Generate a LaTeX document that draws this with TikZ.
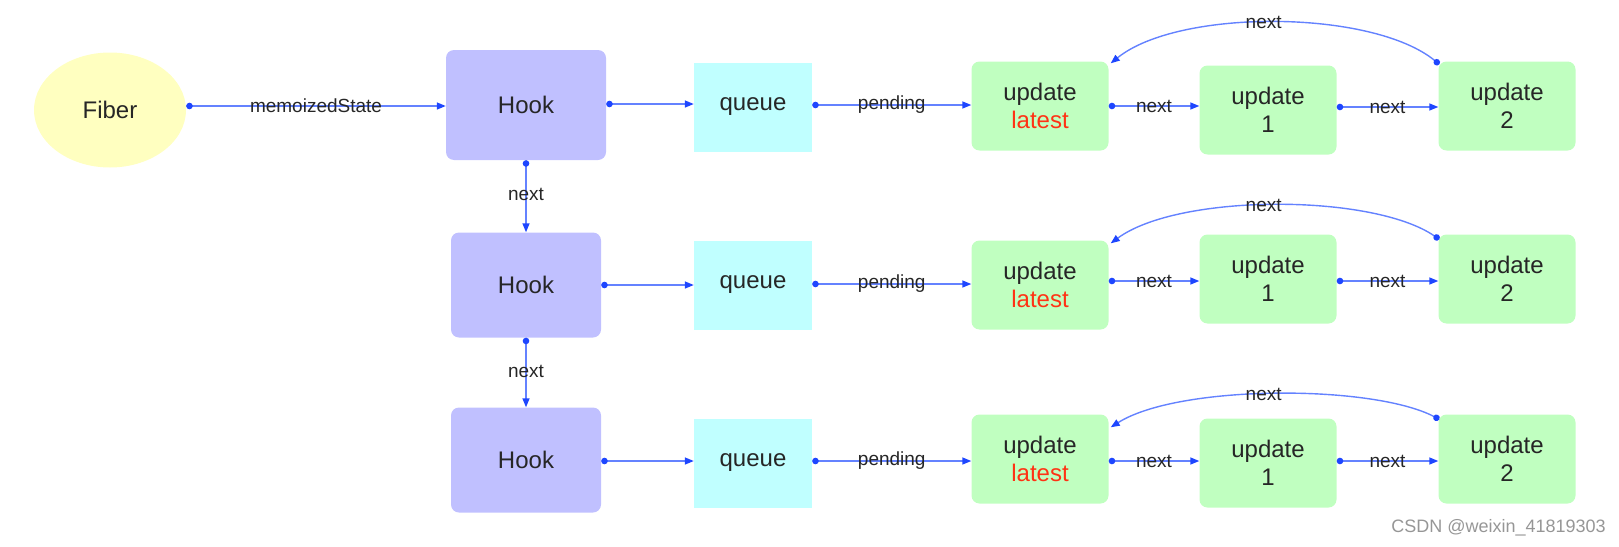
\documentclass[tikz,border=0pt]{standalone}
\usepackage{fontspec}
\setmainfont{Liberation Sans}
\usetikzlibrary{arrows.meta,shapes.geometric}
\definecolor{fiberc}{RGB}{255,255,192}
\definecolor{hookc}{RGB}{192,192,255}
\definecolor{queuec}{RGB}{192,255,255}
\definecolor{updc}{RGB}{192,255,192}
\definecolor{linec}{RGB}{100,130,255}
\definecolor{dotc}{RGB}{30,70,255}
\definecolor{latestc}{RGB}{255,50,20}
\definecolor{wmc}{RGB}{150,150,150}
\begin{document}
\begin{tikzpicture}[x=1pt,y=-1pt,
  every node/.style={font=\fontsize{24}{28}\selectfont, text=black!85},
  fiberbox/.style={ellipse, fill=fiberc, minimum width=152pt, minimum height=115pt, inner sep=0pt},
  hookbox/.style={rectangle, rounded corners=8pt, fill=hookc, minimum width=150pt, minimum height=105pt, inner sep=0pt},
  queuebox/.style={rectangle, fill=queuec, minimum width=118pt, minimum height=89pt, inner sep=0pt},
  updbox/.style={rectangle, rounded corners=8pt, fill=updc, minimum width=137pt, minimum height=89pt, inner sep=0pt, align=center, font=\fontsize{24}{30}\selectfont},
  link/.style={draw=linec, line width=1.4pt, {Circle[length=6.5pt,width=6.5pt,fill=dotc,color=dotc]}-{Triangle[length=9pt,width=7pt,fill=dotc,color=dotc]}},
  lbl/.style={font=\fontsize{19}{22}\selectfont, text=black!85, inner sep=0pt}
]
\useasboundingbox (0,0) rectangle (1619,546);

% nodes
\node[fiberbox] (fiber) at (110,110) {Fiber};
\node[hookbox, minimum width=160pt, minimum height=110pt] (h1) at (526,105) {Hook};
\node[hookbox] (h2) at (526,285) {Hook};
\node[hookbox] (h3) at (526,460) {Hook};

\node[queuebox] (q1) at (753,107) {queue};
\node[queuebox] (q2) at (753,285) {queue};
\node[queuebox] (q3) at (753,463) {queue};

\node[updbox] (l1) at (1040,106) {update\\[-2pt]\textcolor{latestc}{latest}};
\node[updbox] (a1) at (1268,110) {update\\[-2pt]1};
\node[updbox] (b1) at (1507,106) {update\\[-2pt]2};

\node[updbox] (l2) at (1040,285) {update\\[-2pt]\textcolor{latestc}{latest}};
\node[updbox] (a2) at (1268,279) {update\\[-2pt]1};
\node[updbox] (b2) at (1507,279) {update\\[-2pt]2};

\node[updbox] (l3) at (1040,459) {update\\[-2pt]\textcolor{latestc}{latest}};
\node[updbox] (a3) at (1268,463) {update\\[-2pt]1};
\node[updbox] (b3) at (1507,459) {update\\[-2pt]2};

\node[font=\fontsize{18}{20}\selectfont, text=wmc, anchor=east, inner sep=0pt] (wm) at (1606,528) {CSDN @weixin\_41819303};

% Fiber -> Hook
\draw[link] (fiber.east |- 0,106) -- node[lbl]{memoizedState} (h1.west |- 0,106);

% Hook -> queue
\draw[link] (h1.east |- 0,104) -- (q1.west |- 0,104);
\draw[link] (h2.east) -- (q2.west);
\draw[link] (h3.east |- 0,461) -- (q3.west |- 0,461);

% queue -> update latest
\draw[link] (q1.east |- 0,105) -- node[lbl]{pending} (l1.west |- 0,105);
\draw[link] (q2.east |- 0,284) -- node[lbl]{pending} (l2.west |- 0,284);
\draw[link] (q3.east |- 0,461) -- node[lbl]{pending} (l3.west |- 0,461);

% update chain
\draw[link] (l1.east |- 0,106) -- node[lbl]{next} (a1.west |- 0,106);
\draw[link] (a1.east |- 0,107) -- node[lbl]{next} (b1.west |- 0,107);
\draw[link] (l2.east |- 0,281) -- node[lbl]{next} (a2.west |- 0,281);
\draw[link] (a2.east |- 0,281) -- node[lbl]{next} (b2.west |- 0,281);
\draw[link] (l3.east |- 0,461) -- node[lbl]{next} (a3.west |- 0,461);
\draw[link] (a3.east |- 0,461) -- node[lbl]{next} (b3.west |- 0,461);

% circular next arcs
\draw[link] ([shift={(1,3)}]b1.north west) .. controls +(-67,-55) and +(68,-55) .. node[lbl, pos=0.53]{next} ([shift={(2,2)}]l1.north east);
\draw[link] ([shift={(1,5)}]b2.north west) .. controls +(-67,-46) and +(68,-50) .. node[lbl, pos=0.53]{next} ([shift={(2,3)}]l2.north east);
\draw[link] ([shift={(1,5)}]b3.north west) .. controls +(-67,-35) and +(68,-43) .. node[lbl, pos=0.53]{next} ([shift={(2,13)}]l3.north east);

% Hook -> Hook
\draw[link] (h1.south) -- node[lbl, pos=0.48]{next} (h2.north);
\draw[link] (h2.south) -- node[lbl, pos=0.48]{next} (h3.north);
\end{tikzpicture}
\end{document}
